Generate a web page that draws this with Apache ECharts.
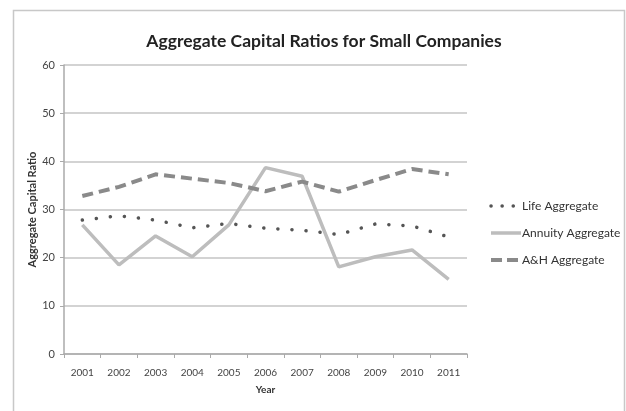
<!DOCTYPE html>
<html><head><meta charset="utf-8">
<script src="https://cdn.jsdelivr.net/npm/echarts@6/dist/echarts.min.js"></script>
<style>html,body{margin:0;padding:0;background:#fff}#c{width:626px;height:411px}</style>
</head><body><div id="c"></div>
<script>
const years = ['2001','2002','2003','2004','2005','2006','2007','2008','2009','2010','2011'];
const lifeAggregate = [27.8, 28.7, 27.8, 26.2, 27.1, 26.1, 25.7, 24.8, 27.0, 26.6, 24.3];
const annuityAggregate = [26.8, 18.5, 24.5, 20.2, 26.8, 38.7, 36.9, 18.1, 20.2, 21.6, 15.5];
const ahAggregate = [32.8, 34.7, 37.3, 36.4, 35.5, 33.8, 35.8, 33.7, 36.1, 38.4, 37.3];
const yTicks = [0, 60, 10];

const font = 'Lato, "Liberation Sans", sans-serif';
const chart = echarts.init(document.getElementById('c'), null, {renderer: 'canvas'});
chart.setOption({
  animation: false,
  textStyle: {fontFamily: font},
  graphic: [{type: 'rect', shape: {x: 13.5, y: 10.5, width: 611, height: 420}, style: {fill: 'none', stroke: '#c8c8c8', lineWidth: 1.5}, silent: true}],
  title: {text: 'Aggregate Capital Ratios for Small Companies', left: 319, textAlign: 'center', top: 27,
    textStyle: {fontFamily: font, fontSize: 17.5, fontWeight: 'bold', color: '#222'}},
  grid: {left: 64, right: 159, top: 65, bottom: 57, containLabel: false},
  legend: {orient: 'vertical', left: 484, top: 195, itemGap: 15, itemWidth: 30, itemHeight: 12,
    itemStyle: {opacity: 0},
    textStyle: {fontFamily: font, fontSize: 12, color: '#333', padding: [0,0,0,-4]},
    data: [
      {name: 'Life Aggregate', lineStyle: {width: 3.5, type: [0.1, 11], cap: 'round', color: '#555'}},
      {name: 'Annuity Aggregate', lineStyle: {width: 3.5, color: '#bdbdbd'}},
      {name: 'A&H Aggregate', lineStyle: {width: 4, type: [11, 5], color: '#8a8a8a'}}
    ]},
  xAxis: {type: 'category', data: years, boundaryGap: true, name: 'Year', nameLocation: 'middle', nameGap: 31,
    nameMoveOverlap: false,
    nameTextStyle: {fontFamily: font, fontSize: 10, fontWeight: 'bold', color: '#333'},
    axisLine: {lineStyle: {color: '#aaa', width: 1.5}},
    axisTick: {show: true, length: 4, lineStyle: {color: '#aaa'}},
    axisLabel: {fontFamily: font, fontSize: 10, color: '#444', margin: 14}},
  yAxis: {type: 'value', min: yTicks[0], max: yTicks[1], interval: yTicks[2], name: 'Aggregate Capital Ratio',
    nameLocation: 'middle', nameGap: 26, nameRotate: 90, nameMoveOverlap: false,
    nameTextStyle: {fontFamily: font, fontSize: 11, fontWeight: 'bold', color: '#333'},
    axisLine: {show: true, lineStyle: {color: '#aaa', width: 1.5}},
    axisTick: {show: true, length: 4, lineStyle: {color: '#aaa'}},
    axisLabel: {fontFamily: font, fontSize: 11, color: '#444', margin: 9},
    splitLine: {lineStyle: {color: '#c4c4c4', width: 1.5}}},
  series: [
    {name: 'Life Aggregate', type: 'line', data: lifeAggregate, symbol: 'none', z: 3,
      itemStyle: {color: '#555'},
      lineStyle: {color: '#555', width: 3.5, type: [0.1, 14], cap: 'round'}},
    {name: 'Annuity Aggregate', type: 'line', data: annuityAggregate, symbol: 'none', z: 2,
      itemStyle: {color: '#bdbdbd'},
      lineStyle: {color: '#bdbdbd', width: 3.5}},
    {name: 'A&H Aggregate', type: 'line', data: ahAggregate, symbol: 'none', z: 2,
      itemStyle: {color: '#8a8a8a'},
      lineStyle: {color: '#8a8a8a', width: 4, type: [11, 6]}}
  ]
});
</script></body></html>
